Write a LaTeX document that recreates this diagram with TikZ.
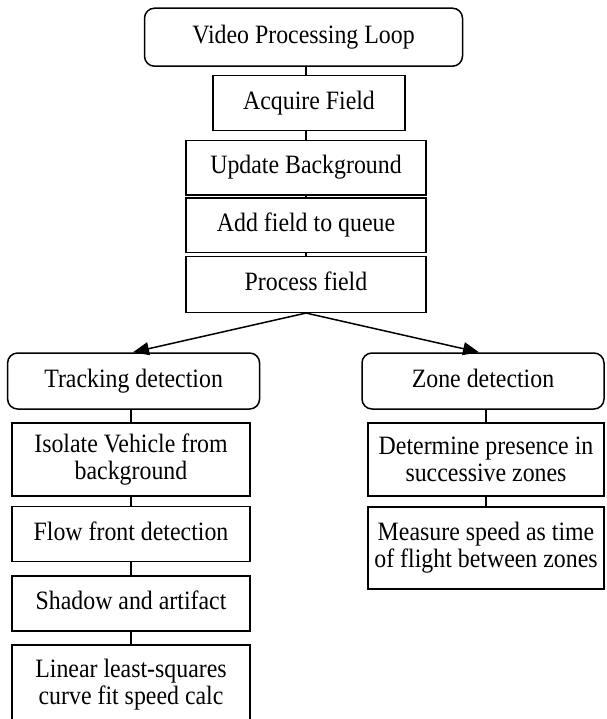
\documentclass[tikz,border=0pt]{standalone}
\usepackage{fontspec}
\setmainfont[FakeStretch=0.9]{Liberation Serif}
\usetikzlibrary{arrows.meta}
\begin{document}
\begin{tikzpicture}[x=1pt,y=-1pt,
  every node/.style={font=\fontsize{26.5}{27}\selectfont, align=center, inner sep=0pt},
  sline/.style={text height=18pt, text depth=6pt},
  box/.style={draw, line width=1.5pt, rectangle},
  rbox/.style={draw, line width=1.5pt, rectangle, rounded corners=10pt},
  conn/.style={line width=1.5pt},
  arr/.style={line width=1.5pt, -{Triangle[length=16pt,width=13pt]}}]
\useasboundingbox (0,0) rectangle (606,719);
% top column
\node[rbox, sline, minimum width=318pt, minimum height=58pt] (vpl) at (303.5,37.2) {Video Processing Loop};
\node[box, sline, minimum width=192pt, minimum height=55pt] (acq) at (309,103.2) {Acquire Field};
\node[box, sline, minimum width=240pt, minimum height=54.5pt] (upd) at (306,167.7) {Update Background};
\node[box, sline, minimum width=240pt, minimum height=54.5pt] (add) at (306,225.3) {Add field to queue};
\node[box, sline, minimum width=240pt, minimum height=56pt] (proc) at (306,284.3) {Process field};
% branches
\node[rbox, sline, minimum width=252pt, minimum height=56pt] (trk) at (133.6,381) {Tracking detection};
\node[rbox, sline, minimum width=242pt, minimum height=56pt] (zone) at (483,381) {Zone detection};
% left column
\node[box, minimum width=238.4pt, minimum height=73pt] (iso) at (131,459.7) {Isolate Vehicle from\\background};
\node[box, sline, minimum width=238.4pt, minimum height=55pt] (flow) at (131,534.2) {Flow front detection};
\node[box, sline, minimum width=238.4pt, minimum height=55pt] (shad) at (131,603.5) {Shadow and artifact};
\node (lin) at (131,685) {Linear least-squares\\curve fit speed calc};
\coordinate (linTL) at (11.8,645);
\coordinate (linTR) at (250.2,645);
\coordinate (linBL) at (11.8,722);
\coordinate (linBR) at (250.2,722);
\draw[conn] (linBL) -- (linTL) -- (linTR) -- (linBR);
% right column
\node[box, minimum width=236.4pt, minimum height=73pt] (det) at (486,459.7) {Determine presence in\\successive zones};
\node[box, minimum width=236.4pt, minimum height=82pt] (meas) at (486,548) {Measure speed as time\\of flight between zones};
% connectors
\draw[conn] (vpl.south -| proc.north) -- (acq.north -| proc.north);
\draw[conn] (acq.south -| proc.north) -- (upd.north);
\draw[conn] (upd.south) -- (add.north);
\draw[conn] (add.south) -- (proc.north);
\draw[arr] (proc.south) -- (trk.north -| 133,0);
\draw[arr] (proc.south) -- (zone.north -| 479,0);
\draw[conn] (trk.south -| iso.north) -- (iso.north);
\draw[conn] (iso.south) -- (flow.north);
\draw[conn] (flow.south) -- (shad.north);
\draw[conn] (shad.south) -- (linTL -| shad.south);
\draw[conn] (zone.south -| det.north) -- (det.north);
\draw[conn] (det.south) -- (meas.north);
\end{tikzpicture}
\end{document}
